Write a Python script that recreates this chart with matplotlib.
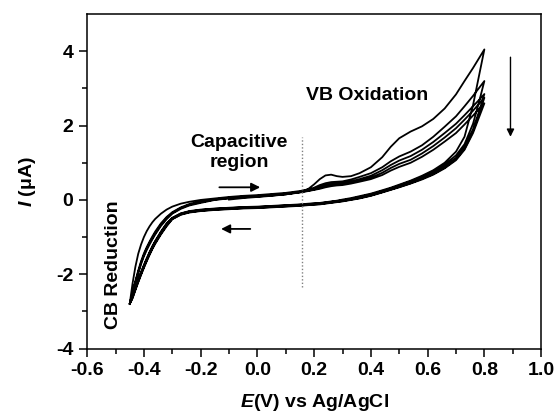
import numpy as np
import matplotlib
matplotlib.use('Agg')
import matplotlib.pyplot as plt

plt.rcParams['font.family'] = ['Liberation Sans', 'DejaVu Sans']
plt.rcParams['font.weight'] = 'bold'
plt.rcParams['axes.unicode_minus'] = False
plt.rcParams['mathtext.fontset'] = 'custom'
plt.rcParams['mathtext.it'] = 'Liberation Sans:italic:bold'
plt.rcParams['mathtext.rm'] = 'Liberation Sans:bold'

nan = np.nan

# potential grid (V vs Ag/AgCl)
potential = [-0.45, -0.44, -0.43, -0.42, -0.41, -0.40, -0.39, -0.38, -0.37, -0.36,
             -0.34, -0.32, -0.30, -0.27, -0.24, -0.20, -0.15, -0.10, -0.05, 0.00,
             0.05, 0.10, 0.15, 0.18, 0.20, 0.22, 0.24, 0.26, 0.28, 0.30,
             0.33, 0.36, 0.40, 0.44, 0.47, 0.50, 0.54, 0.58, 0.62, 0.66,
             0.70, 0.73, 0.76, 0.78, 0.80]

# anodic (forward) scans, current in uA
fwd_1 = [nan] * 17 + [0.01, 0.05, 0.08, 0.11, 0.15, 0.21, 0.30, 0.42, 0.56, 0.66,
                      0.68, 0.64, 0.62, 0.64, 0.72, 0.88, 1.15, 1.43, 1.66, 1.84,
                      1.98, 2.18, 2.46, 2.84, 3.20, 3.55, 3.80, 4.05]
fwd_2 = [-2.80, -2.25, -1.80, -1.45, -1.20, -1.00, -0.84, -0.71, -0.60, -0.51,
         -0.37, -0.26, -0.18, -0.10, -0.05, 0.00, 0.04, 0.08, 0.11, 0.13,
         0.16, 0.19, 0.24, 0.28, 0.33, 0.40, 0.45, 0.48, 0.49, 0.50,
         0.55, 0.62, 0.72, 0.88, 1.04, 1.17, 1.30, 1.47, 1.70, 1.97,
         2.25, 2.52, 2.80, 3.00, 3.20]
fwd_3 = [-2.80, -2.48, -2.18, -1.90, -1.65, -1.44, -1.27, -1.12, -0.98, -0.85,
         -0.63, -0.46, -0.33, -0.20, -0.11, -0.04, 0.02, 0.06, 0.09, 0.11,
         0.14, 0.17, 0.22, 0.26, 0.30, 0.35, 0.40, 0.43, 0.45, 0.46,
         0.50, 0.56, 0.65, 0.80, 0.94, 1.06, 1.18, 1.35, 1.56, 1.80,
         2.05, 2.28, 2.52, 2.68, 2.85]
fwd_4 = [-2.80, -2.50, -2.21, -1.94, -1.69, -1.48, -1.31, -1.16, -1.02, -0.89,
         -0.66, -0.49, -0.35, -0.22, -0.13, -0.06, 0.01, 0.05, 0.08, 0.10,
         0.13, 0.16, 0.21, 0.25, 0.28, 0.32, 0.37, 0.40, 0.42, 0.43,
         0.47, 0.52, 0.60, 0.73, 0.86, 0.97, 1.08, 1.25, 1.45, 1.68,
         1.93, 2.16, 2.40, 2.58, 2.75]
fwd_5 = [-2.80, -2.52, -2.24, -1.98, -1.73, -1.52, -1.35, -1.20, -1.06, -0.93,
         -0.70, -0.52, -0.37, -0.24, -0.15, -0.08, 0.00, 0.04, 0.07, 0.09,
         0.12, 0.15, 0.20, 0.24, 0.27, 0.30, 0.34, 0.37, 0.39, 0.40,
         0.44, 0.49, 0.56, 0.67, 0.79, 0.89, 1.00, 1.16, 1.35, 1.57,
         1.80, 2.03, 2.27, 2.44, 2.60]

# cathodic (reverse) scans, same potential grid
rev_1 = [-2.80, -2.57, -2.35, -2.14, -1.94, -1.75, -1.57, -1.40, -1.24, -1.10,
         -0.85, -0.63, -0.48, -0.36, -0.30, -0.26, -0.23, -0.21, -0.19, -0.18,
         -0.16, -0.14, -0.12, -0.10, -0.09, -0.08, -0.06, -0.04, -0.02, 0.01,
         0.05, 0.10, 0.17, 0.26, 0.33, 0.41, 0.52, 0.65, 0.80, 1.00,
         1.30, 1.70, 2.55, 3.30, 4.05]
rev_2 = [-2.80, -2.59, -2.37, -2.16, -1.96, -1.77, -1.59, -1.42, -1.26, -1.12,
         -0.87, -0.65, -0.49, -0.37, -0.31, -0.27, -0.24, -0.22, -0.20, -0.19,
         -0.17, -0.15, -0.13, -0.11, -0.10, -0.09, -0.07, -0.05, -0.03, -0.01,
         0.03, 0.08, 0.15, 0.24, 0.31, 0.39, 0.50, 0.62, 0.77, 0.95,
         1.20, 1.50, 2.05, 2.60, 3.20]
rev_3 = [-2.80, -2.61, -2.39, -2.18, -1.98, -1.79, -1.61, -1.44, -1.28, -1.14,
         -0.89, -0.67, -0.50, -0.38, -0.32, -0.28, -0.25, -0.23, -0.21, -0.20,
         -0.18, -0.16, -0.14, -0.12, -0.11, -0.10, -0.08, -0.06, -0.04, -0.02,
         0.02, 0.06, 0.13, 0.22, 0.29, 0.37, 0.47, 0.59, 0.73, 0.90,
         1.13, 1.42, 1.90, 2.35, 2.85]
rev_4 = [-2.80, -2.63, -2.41, -2.20, -2.00, -1.81, -1.63, -1.46, -1.30, -1.16,
         -0.91, -0.69, -0.51, -0.39, -0.33, -0.29, -0.26, -0.24, -0.22, -0.21,
         -0.19, -0.17, -0.15, -0.13, -0.12, -0.11, -0.09, -0.07, -0.05, -0.03,
         0.01, 0.05, 0.12, 0.21, 0.28, 0.35, 0.45, 0.57, 0.70, 0.87,
         1.10, 1.38, 1.85, 2.28, 2.75]
rev_5 = [-2.80, -2.65, -2.43, -2.22, -2.02, -1.83, -1.65, -1.48, -1.32, -1.18,
         -0.93, -0.71, -0.52, -0.40, -0.34, -0.30, -0.27, -0.25, -0.23, -0.22,
         -0.20, -0.18, -0.16, -0.14, -0.13, -0.12, -0.10, -0.08, -0.06, -0.04,
         0.00, 0.04, 0.11, 0.20, 0.27, 0.34, 0.44, 0.55, 0.68, 0.85,
         1.07, 1.35, 1.80, 2.20, 2.60]

boundary = 0.157  # capacitive region limit

fig = plt.figure(figsize=(5.55, 4.15), dpi=100)
ax = fig.add_axes([0.157, 0.160, 0.818, 0.806])

x = np.array(potential)
xs, ys = [], []
for f, r in zip([fwd_1, fwd_2, fwd_3, fwd_4, fwd_5], [rev_1, rev_2, rev_3, rev_4, rev_5]):
    f = np.array(f)
    ok = ~np.isnan(f)
    xs += [x[ok], x[::-1]]
    ys += [f[ok], np.array(r)[::-1]]
ax.plot(np.concatenate(xs), np.concatenate(ys), color='black', lw=1.3, solid_joinstyle='round')

ax.plot([boundary, boundary], [-2.34, 1.70], ls=(0, (1, 1.5)), color='gray', lw=1)

arrow = dict(arrowstyle='-|>', color='black', lw=1.3, mutation_scale=13, shrinkA=0, shrinkB=0)
ax.annotate('', xy=(0.01, 0.34), xytext=(-0.134, 0.34), arrowprops=arrow)
ax.annotate('', xy=(-0.128, -0.78), xytext=(-0.025, -0.78), arrowprops=arrow)
ax.annotate('', xy=(0.892, 1.70), xytext=(0.892, 3.84),
            arrowprops=dict(arrowstyle='-|>', color='black', lw=1.0, mutation_scale=11, shrinkA=0, shrinkB=0))

ax.text(0.387, 2.82, 'VB Oxidation', ha='center', va='center', fontsize=14, fontweight='bold')
ax.text(-0.065, 1.28, 'Capacitive\nregion', ha='center', va='center', fontsize=14,
        fontweight='bold', linespacing=1.25)
ax.text(-0.506, -1.745, 'CB Reduction', ha='center', va='center', rotation=90,
        fontsize=14, fontweight='bold')

ax.set_xlim(-0.6, 1.0)
ax.set_ylim(-4, 5)
ax.set_xticks(np.arange(-0.6, 1.01, 0.2))
ax.set_xticks(np.arange(-0.5, 1.0, 0.2), minor=True)
ax.set_xticklabels(['%.1f' % v for v in np.arange(-0.6, 1.01, 0.2)])
ax.set_yticks([-4, -2, 0, 2, 4])
ax.set_yticks([-3, -1, 1, 3], minor=True)
ax.tick_params(which='both', direction='out', width=1.1, labelsize=14, top=False, right=False)
ax.tick_params(which='major', length=6, pad=4)
ax.tick_params(which='minor', length=3.5)
for lab in ax.get_xticklabels() + ax.get_yticklabels():
    lab.set_fontweight('bold')
for s in ax.spines.values():
    s.set_linewidth(1.1)

ax.set_xlabel(r'$E$(V) vs Ag/AgCl', fontsize=14, fontweight='bold', labelpad=9)
ax.set_ylabel(r'$I$ (μA)', fontsize=14, fontweight='bold', labelpad=13)

fig.savefig('out.png', dpi=100)
